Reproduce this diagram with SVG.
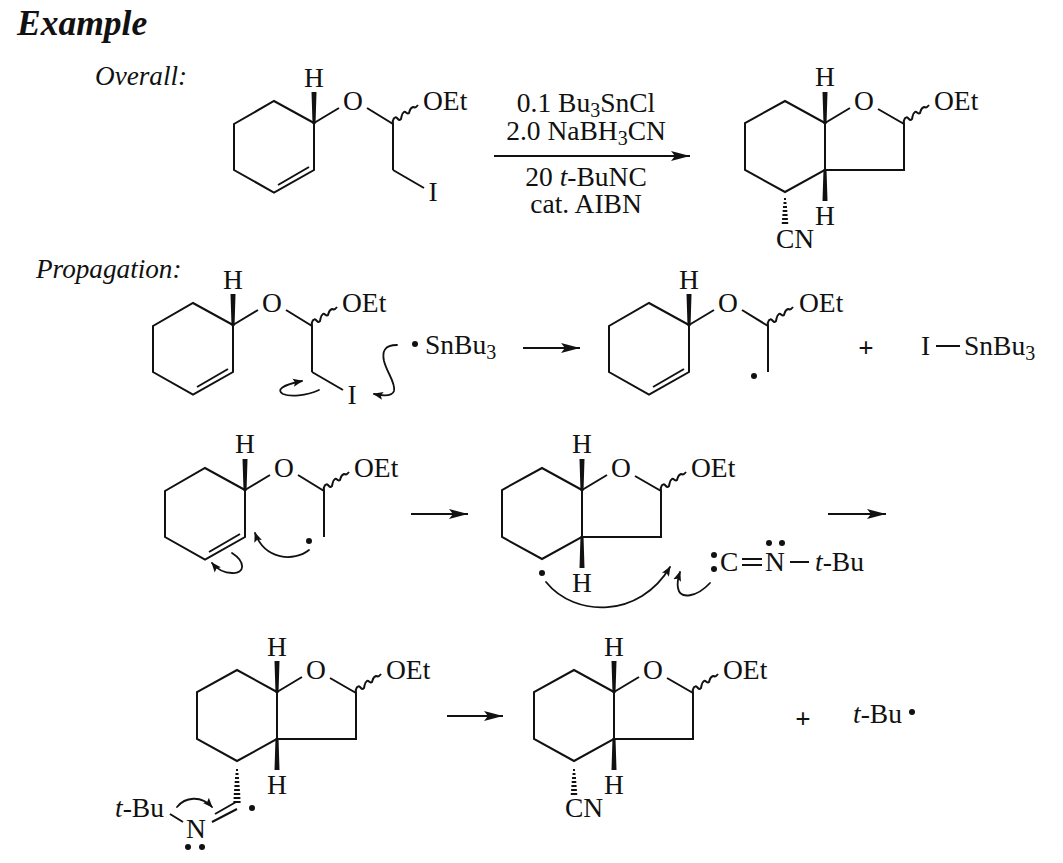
<svg xmlns="http://www.w3.org/2000/svg" xmlns:xlink="http://www.w3.org/1999/xlink" width="1063" height="863" viewBox="0 0 1063 863">
<style>
text{font-family:"Liberation Serif","Times New Roman",serif;font-size:27.5px;fill:#111}
.i{font-style:italic}
.h{font-style:italic;font-size:27.2px}
.m{text-anchor:middle}
.s{font-size:20px}
.p{font-weight:bold;font-size:27px}
.b,.b *{fill:none;stroke:#111;stroke-width:2;stroke-linejoin:miter}
.c{fill:none;stroke:#111;stroke-width:1.8;stroke-linecap:round}
.a{fill:none;stroke:#111;stroke-width:2}
.k{fill:#111;stroke:none}
.w{fill:none;stroke:#111;stroke-width:2}
</style>
<defs>
<marker id="ah" markerUnits="userSpaceOnUse" markerWidth="20" markerHeight="14" refX="19" refY="7" orient="auto"><path class="k" d="M0 2L19 7L0 12L4 7Z"/></marker>
<marker id="ch" markerUnits="userSpaceOnUse" markerWidth="12" markerHeight="12" refX="9" refY="6" orient="auto"><path class="k" d="M0 2L10 6L0 10L2 6Z"/></marker>
<path id="wave" class="w" d="M0 0c-1-5 2-8 4-6c2 2 2 3 4 1c1-3 0-5 3-7c2-1 3 3 5 1c1-3 1-5 4-6c2 0 2 2 5-2"/>
<path id="hash" class="w" d="M-1 0h2M-1.500 4h3M-2 8h4M-2.300 12h4.600M-2.600 16h5.200M-2.900 20h5.800M-3.200 24h6.400"/>
<g id="ether">
<path class="b" d="M314 123L274 101L234 124V170L274 192.500L314 170ZM278 185L309 167M314 123L339 108M367 108L393 124V170"/>
<path class="k" d="M312.500 124L311.500 92H316.500L315.500 124Z"/>
<use href="#wave" x="393" y="124"/>
</g>
<g id="bicyc">
<path class="b" d="M582 490L542 468L502 490V537L542 559L582 537ZM582 537H661V491L635 476M582 490L607 475"/>
<path class="k" d="M580.500 491L579.500 459H584.500L583.500 491ZM580.500 536L579.500 568H584.500L583.500 536Z"/>
<use href="#wave" x="661" y="491"/>
</g>
</defs>

<g id="headings">
<text x="17" y="35" style="font-weight:bold;font-style:italic;font-size:35.500px">Example</text>
<text class="h" x="95" y="85">Overall:</text>
<text class="h" x="36" y="278">Propagation:</text>
</g>

<g id="substrate">
<use href="#ether"/>
<path class="b" d="M393 170L424 188"/>
<text class="m" x="314" y="87">H</text><text class="m" x="353" y="110">O</text><text x="423" y="110">OEt</text><text class="m" x="433" y="201">I</text>
</g>

<g id="conditions">
<text class="m" x="586" y="112">0.1 Bu<tspan class="s" dy="5">3</tspan><tspan dy="-5">SnCl</tspan></text>
<text class="m" x="586" y="140">2.0 NaBH<tspan class="s" dy="5">3</tspan><tspan dy="-5">CN</tspan></text>
<text class="m" x="586" y="186">20 <tspan class="i">t</tspan>-BuNC</text>
<text class="m" x="586" y="213">cat. AIBN</text>
</g>

<g id="product">
<use href="#bicyc" transform="translate(243 -367)"/>
<use href="#hash" x="785" y="199"/>
<text class="m" x="825" y="86">H</text><text class="m" x="864" y="110">O</text><text x="934" y="110">OEt</text><text class="m" x="825" y="225">H</text><text x="776" y="248">CN</text>
</g>

<g id="step1-iodide">
<use href="#ether" transform="translate(-81 202)"/>
<path class="b" d="M312 372L343 390"/>
<text class="m" x="233" y="289">H</text><text class="m" x="272" y="312">O</text><text x="342" y="312">OEt</text><text class="m" x="352" y="404">I</text>
</g>
<g id="step1-tin">
<circle class="k" cx="415" cy="344" r="3"/>
<text x="425" y="354">SnBu<tspan class="s" dy="5">3</tspan></text>
</g>
<g id="step1-radical">
<use href="#ether" transform="translate(375 202)"/>
<circle class="k" cx="754" cy="376" r="3"/>
<text class="m" x="689" y="289">H</text><text class="m" x="728" y="312">O</text><text x="799" y="312">OEt</text>
</g>
<g id="plus1"><text class="m p" x="866" y="357">+</text></g>
<g id="step1-byproduct">
<text x="921" y="355">I</text><path class="b" d="M936 346H960"/>
<text x="964" y="355">SnBu<tspan class="s" dy="5">3</tspan></text>
</g>

<g id="step2-radical">
<use href="#ether" transform="translate(-69 367)"/>
<circle class="k" cx="309" cy="541" r="3"/>
<text class="m" x="245" y="453">H</text><text class="m" x="284" y="477">O</text><text x="354" y="477">OEt</text>
</g>
<g id="step2-cyclised">
<use href="#bicyc"/>
<circle class="k" cx="542" cy="573" r="3"/>
<text class="m" x="582" y="453">H</text><text class="m" x="621" y="477">O</text><text x="691" y="477">OEt</text><text class="m" x="582" y="592">H</text>
</g>
<g id="isonitrile">
<circle class="k" cx="714" cy="555" r="3"/><circle class="k" cx="714" cy="569" r="3"/>
<text x="720" y="571">C</text>
<path class="b" d="M742 559H762M742 565H762M790 562H809"/>
<text class="m" x="775" y="571">N</text>
<circle class="k" cx="769" cy="543" r="3"/><circle class="k" cx="782" cy="543" r="3"/>
<text x="815" y="571"><tspan class="i">t</tspan>-Bu</text>
</g>

<g id="imidoyl">
<use href="#bicyc" transform="translate(-305 202)"/>
<use href="#hash" x="237" y="770"/><path class="w" d="M233.600 798h6.800M233.400 802h7.200"/>
<path class="b" d="M215 814L236 802M212 822L237 809M170 814L183 822"/>
<circle class="k" cx="252" cy="808" r="3"/>
<circle class="k" cx="188" cy="847" r="3"/><circle class="k" cx="202" cy="847" r="3"/>
<text class="m" x="277" y="656">H</text><text class="m" x="316" y="679">O</text><text x="386" y="679">OEt</text><text class="m" x="277" y="794">H</text>
<text x="115" y="817"><tspan class="i">t</tspan>-Bu</text><text class="m" x="196" y="838">N</text>
</g>
<g id="final-nitrile">
<use href="#bicyc" transform="translate(32 202)"/>
<use href="#hash" x="574" y="770"/>
<text class="m" x="614" y="656">H</text><text class="m" x="653" y="679">O</text><text x="723" y="679">OEt</text><text class="m" x="614" y="794">H</text><text x="565" y="817">CN</text>
</g>
<g id="plus2"><text class="m p" x="803" y="728">+</text></g>
<g id="tbu-radical">
<text x="853" y="723"><tspan class="i">t</tspan>-Bu</text><circle class="k" cx="912" cy="712" r="3"/>
</g>

<g id="connectors">
<path class="a" marker-end="url(#ah)" d="M494 156H690"/>
<path class="a" marker-end="url(#ah)" d="M523 348H580"/>
<path class="a" marker-end="url(#ah)" d="M411 514H468"/>
<path class="a" marker-end="url(#ah)" d="M828 514H886"/>
<path class="a" marker-end="url(#ah)" d="M447 716H503"/>
<path class="c" marker-end="url(#ch)" d="M397 345C384 345 382 352 384 361C387 373 396 383 394 391C392 397 383 396 374 394"/>
<path class="c" marker-end="url(#ch)" d="M319 390C306 396 290 397 283 394C276 390 282 385 302 381"/>
<path class="c" marker-end="url(#ch)" d="M309 550C294 562 265 560 255 533"/>
<path class="c" marker-end="url(#ch)" d="M232 553C246 562 245 574 232 573C223 573 217 569 212 563"/>
<path class="c" marker-end="url(#ch)" d="M546 582C575 618 640 618 670 567"/>
<path class="c" marker-end="url(#ch)" d="M710 583C697 597 680 600 678 588C677 583 678 578 680 572"/>
<path class="c" marker-end="url(#ch)" d="M177 807C185 797 201 795 212 807"/>
</g>
</svg>
